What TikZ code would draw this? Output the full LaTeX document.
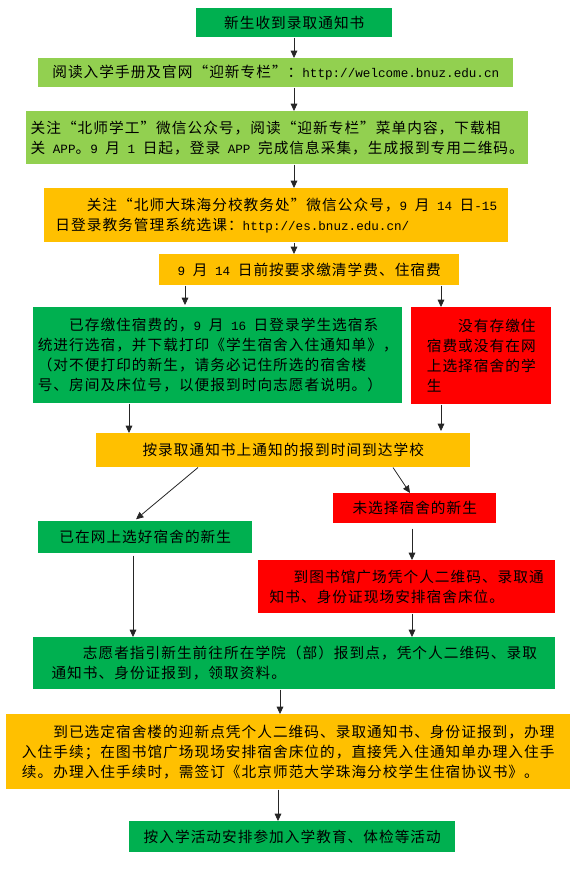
\documentclass[tikz,border=0pt]{standalone}
\usepackage{fontspec}
\setmainfont{Noto Sans CJK SC}[LetterSpace=7]
\newfontfamily\lat{Liberation Mono}[Scale=0.86]
\usetikzlibrary{arrows.meta}
\newcommand\ltn[1]{{\lat#1}}
\definecolor{dgreen}{HTML}{00B050}
\definecolor{lgreen}{HTML}{92D050}
\definecolor{myorange}{HTML}{FFC000}
\definecolor{myred}{HTML}{FF0000}
\tikzset{
  box/.style={anchor=north west, inner sep=0pt, align=left, text=black,
    font=\fontsize{11}{15}\selectfont},
  arr/.style={-{Triangle[length=5.5pt,width=5pt]}, line width=0.6pt, draw=black!85}
}
\begin{document}
\begin{tikzpicture}[x=0.75pt,y=-0.75pt]
\fill[white] (0,0) rectangle (576,873);
\useasboundingbox (0,0) rectangle (576,873);

\node[box, fill=dgreen, minimum width=147pt, minimum height=21.75pt] (n1) at (196,8) {新生收到录取通知书};
\node[box, fill=lgreen, minimum width=356.25pt, minimum height=21.75pt] (n2) at (38,58) {阅读入学手册及官网“迎新专栏”：\ltn{http://welcome.bnuz.edu.cn}};
\node[box, fill=lgreen, minimum width=376.5pt, minimum height=39.75pt] (n3) at (26,111) {关注“北师学工”微信公众号，阅读“迎新专栏”菜单内容，下载相\\关\ltn{ APP}。\ltn{9 }月\ltn{ 1 }日起，登录\ltn{ APP }完成信息采集，生成报到专用二维码。};
\node[box, fill=myorange, minimum width=348pt, minimum height=40.5pt] (n4) at (44,188) {\hspace*{23.5pt}关注“北师大珠海分校教务处”微信公众号，\ltn{9 }月\ltn{ 14 }日\ltn{-15}\\日登录教务管理系统选课：\ltn{http://es.bnuz.edu.cn/}};
\node[box, fill=myorange, minimum width=225pt, minimum height=23.25pt] (n5) at (159,254) {\ltn{9 }月\ltn{ 14 }日前按要求缴清学费、住宿费};
\node[box, fill=dgreen, minimum width=276.75pt, minimum height=72pt] (n6) at (33,307) {\hspace*{23.5pt}已存缴住宿费的，\ltn{9 }月\ltn{ 16 }日登录学生选宿系\\统进行选宿，并下载打印《学生宿舍入住通知单》，\\（对不便打印的新生，请务必记住所选的宿舍楼\\号、房间及床位号，以便报到时向志愿者说明。）};
\node[box, fill=myred, minimum width=105pt, minimum height=72.75pt] (n7) at (411,307) {\hspace*{23.5pt}没有存缴住\\宿费或没有在网\\上选择宿舍的学\\生};
\node[box, fill=myorange, minimum width=280.5pt, minimum height=25.5pt] (n8) at (96,433) {按录取通知书上通知的报到时间到达学校};
\node[box, fill=myred, minimum width=122.25pt, minimum height=22.5pt] (n9) at (333,493) {未选择宿舍的新生};
\node[box, fill=dgreen, minimum width=160.5pt, minimum height=24pt] (n10) at (38,521) {已在网上选好宿舍的新生};
\node[box, fill=myred, minimum width=222.75pt, minimum height=39.75pt] (n11) at (258,560) {\hspace*{18pt}到图书馆广场凭个人二维码、录取通\\知书、身份证现场安排宿舍床位。};
\node[box, fill=dgreen, minimum width=391.5pt, minimum height=39pt] (n12) at (33,637) {\hspace*{23.5pt}志愿者指引新生前往所在学院（部）报到点，凭个人二维码、录取\\通知书、身份证报到，领取资料。};
\node[box, fill=myorange, minimum width=423pt, minimum height=56.25pt] (n13) at (6,714) {\hspace*{23.5pt}到已选定宿舍楼的迎新点凭个人二维码、录取通知书、身份证报到，办理\\入住手续；在图书馆广场现场安排宿舍床位的，直接凭入住通知单办理入住手\\续。办理入住手续时，需签订《北京师范大学珠海分校学生住宿协议书》。};
\node[box, fill=dgreen, minimum width=244.5pt, minimum height=23.25pt] (n14) at (129,821) {按入学活动安排参加入学教育、体检等活动};

\coordinate (xa) at (294,0);
\coordinate (xb) at (185,0);
\coordinate (xc) at (441,0);
\coordinate (xd) at (129,0);
\coordinate (xe) at (198,0);
\coordinate (xf) at (134,0);
\coordinate (xg) at (393,0);
\coordinate (xh) at (410,0);
\coordinate (xi) at (412,0);
\coordinate (xj) at (133,0);
\coordinate (xk) at (280,0);
\coordinate (xl) at (278,0);

\draw[arr] (n1.south -| xa) -- (n2.north -| xa);
\draw[arr] (n2.south -| xa) -- (n3.north -| xa);
\draw[arr] (n3.south -| xa) -- (n4.north -| xa);
\draw[arr] (n4.south -| xa) -- (n5.north -| xa);
\draw[arr, shorten >=1.5pt] (n5.south -| xb) -- (n6.north -| xb);
\draw[arr] (n5.south -| xc) -- (n7.north -| xc);
\draw[arr] (n6.south -| xd) -- (n8.north -| xd);
\draw[arr, shorten >=1.5pt] (n7.south -| xc) -- (n8.north -| xc);
\draw[arr, shorten >=2pt] (n8.south -| xe) -- (n10.north -| xf);
\draw[arr] (n8.south -| xg) -- (n9.north -| xh);
\draw[arr, shorten <=3.75pt] (n9.south -| xi) -- (n11.north -| xi);
\draw[arr, shorten <=1.5pt] (n10.south -| xj) -- (n12.north -| xj);
\draw[arr] (n11.south -| xi) -- (n12.north -| xi);
\draw[arr] (n12.south -| xk) -- (n13.north -| xk);
\draw[arr] (n13.south -| xl) -- (n14.north -| xl);
\end{tikzpicture}
\end{document}
